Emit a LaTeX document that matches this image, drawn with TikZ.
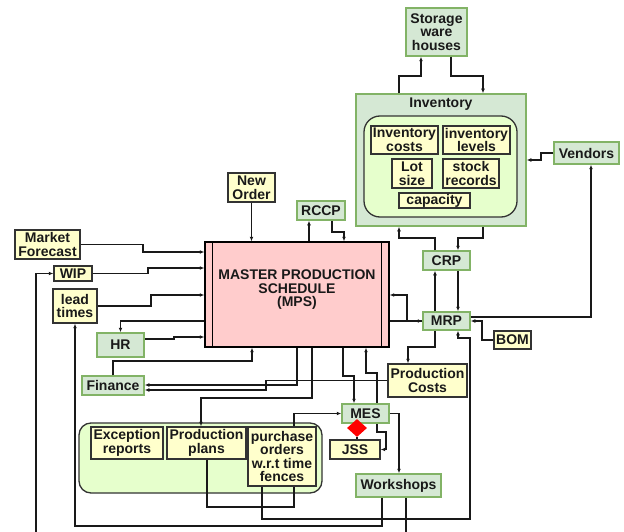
\documentclass[tikz,border=0pt]{standalone}
\usepackage{fontspec}
\setmainfont{Liberation Sans}
\usetikzlibrary{arrows.meta,shapes.geometric}
\definecolor{gfill}{HTML}{D5E8D4}
\definecolor{gline}{HTML}{82B366}
\definecolor{yfill}{HTML}{FFFFCC}
\definecolor{lgfill}{HTML}{E6FFCC}
\definecolor{pfill}{HTML}{FFCCCC}
\begin{document}
\begin{tikzpicture}[x=1pt, y=-1pt]
\tikzset{every node/.style={font=\fontsize{14}{13.6}\selectfont\bfseries, align=center, inner sep=0pt, text=black!90}}
\tikzset{gbox/.style={draw=gline, fill=gfill, line width=1.5pt}}
\tikzset{ybox/.style={draw=black!80, fill=yfill, line width=1.3pt}}
\tikzset{wire/.style={draw=black!90, line width=1.1pt}}
\tikzset{arr/.style={wire, -{Latex[length=4.5pt,width=3.8pt]}}}
\tikzset{dim/.style 2 args={minimum width=#1pt, minimum height=#2pt}}
\path[fill=white] (0,0) rectangle (624,532);
\useasboundingbox (0,0) rectangle (624,532);
% inventory block
\node[gbox, dim={61}{48}] (store) at (436.5,32) {Storage\\ware\\houses};
\node[gbox, dim={170}{132}, label={[anchor=north, yshift=-4pt]north:Inventory}] (inv) at (441,160) {};
\node[draw=black!80, fill=lgfill, line width=1.3pt, rounded corners=16pt, dim={153}{101}] (invin) at (440.5,166.5) {};
\node[ybox, dim={67}{28}] (invcost) at (404.5,140) {Inventory\\costs};
\node[ybox, dim={67}{28}] (invlev) at (476.5,140) {inventory\\levels};
\node[ybox, dim={40}{29}] (lot) at (412,173.5) {Lot\\size};
\node[ybox, dim={56}{29}] (stock) at (471,173.5) {stock\\records};
\node[ybox, dim={71}{15}] (capa) at (434.5,200.5) {capacity};
\node[gbox, dim={65}{22}] (vend) at (586.5,153) {Vendors};
% planning
\node[gbox, dim={48}{19}] (rccp) at (321,210.5) {RCCP};
\node[ybox, dim={47}{29}] (neworder) at (251.5,187.5) {New\\Order};
\node[draw=black, fill=pfill, line width=1.3pt, dim={184}{105}, text depth=12pt] (mps) at (297,294.5) {MASTER PRODUCTION\\SCHEDULE\\(MPS)};
\draw[line width=1.1pt] ([xshift=8pt]mps.north west) -- ([xshift=8pt]mps.south west);
\draw[line width=1.1pt] ([xshift=-8pt]mps.north east) -- ([xshift=-8pt]mps.south east);
\node[ybox, dim={65}{29}] (mf) at (47.5,244.5) {Market\\Forecast};
\node[ybox, dim={38}{15}] (wip) at (73,273.5) {WIP};
\node[ybox, dim={44}{34}] (lead) at (75,306) {lead\\times};
\node[gbox, dim={47}{24}] (hr) at (120.5,345) {HR};
\node[gbox, dim={62}{19}] (fin) at (113,385.5) {Finance};
\node[gbox, dim={47}{19}] (crp) at (446.5,260.5) {CRP};
\node[gbox, dim={47}{18}] (mrp) at (446.5,321) {MRP};
\node[ybox, dim={37}{18}] (bom) at (512.5,340) {BOM};
\node[ybox, dim={79}{33}] (pcost) at (427.5,380.5) {Production\\Costs};
% reports
\node[draw=black!80, fill=lgfill, line width=1.3pt, rounded corners=12pt, dim={243}{70}] (grp) at (200.5,458) {};
\node[ybox, dim={72}{32}] (exc) at (127,443) {Exception\\reports};
\node[ybox, dim={79}{32}] (pplan) at (206.5,443) {Production\\plans};
\node[ybox, dim={68}{59}] (purch) at (282,456.5) {purchase\\orders\\w.r.t time\\fences};
\node[ybox, dim={50}{19}] (jss) at (355,449.5) {JSS};
\node[gbox, dim={85}{23}] (work) at (398.5,485.5) {Workshops};
\coordinate (wbot) at (406,532);
\coordinate (wipbot) at (36,532);
\draw[arr, {Latex[length=4.5pt,width=3.8pt]}-{Latex[length=4.5pt,width=3.8pt]}] (jss.east) -| (386,432) -| (377,373) -| (mps.south -| 366,0);
\node[gbox, dim={47}{19}] (mes) at (365.5,413.5) {MES};
\node[diamond, fill=red, dim={20}{18}] (dia) at (357,428) {};
% connectors
\draw[arr] (store.south -| 451,0) |- (483,76) -- (inv.north -| 483,0);
\draw[arr] (inv.north -| 399,0) |- (421,76) -- (store.south -| 421,0);
\draw[arr] (vend.west) -| (541,160) -- (inv.east |- 0,160);
\draw[arr] (crp.north -| 435,0) |- (399,238) -- (inv.south -| 399,0);
\draw[arr] (inv.south -| 483,0) |- (458,238) -- (crp.north -| 458,0);
\draw[arr] (mrp.north -| 435,0) -- (crp.south -| 435,0);
\draw[arr] (crp.south -| 458,0) -- (mrp.north -| 458,0);
\draw[arr] (mrp.east |- 0,317) -| (vend.south -| 591,0);
\draw[arr] (bom.west) -| (482,321) -- (mrp.east |- 0,321);
\draw[arr] (mps.east |- 0,321) -- (mrp.west);
\draw[arr] (mrp.west) -| (407,295) -- (mps.east |- 0,295);
\draw[arr] (mrp.south -| 435,0) |- (408,347) -- (pcost.north -| 408,0);
\draw[arr] (neworder.south) -- (neworder.south |- mps.north);
\draw[arr] (mps.north -| 309,0) -- (rccp.south -| 309,0);
\draw[arr] (rccp.south -| 332,0) -- (332,232) -| (mps.north -| 344,0);
\draw[arr] (mf.east) -| (143,252) -- (mps.west |- 0,252);
\draw[arr] (wip.east) -| (148,268) -- (mps.west |- 0,268);
\draw[arr] (lead.east) -| (151,295) -- (mps.west |- 0,295);
\draw[arr] (mps.west |- 0,321) -| (hr.north);
\draw[arr] (hr.east |- 0,339) -| (174,337) -- (mps.west |- 0,337);
\draw[arr] (fin.north) -- (fin.north |- 0,361) -| (mps.south -| 252,0);
\draw[arr] (mps.south -| 297,0) |- (fin.east |- 0,385);
\draw[arr] (pcost.west) -| (266,390) -- (fin.east |- 0,390);
\draw[arr] (mps.south -| 312,0) |- (201,398) -- (pplan.north -| 201,0);
\draw[arr] (mps.south -| 343,0) |- (354,376) -- (mes.north -| 354,0);
\draw[arr] (purch.north -| 294,0) |- (mes.west);
\draw[arr] (mes.east) -| (work.north -| 399,0);
\draw[wire] (dia.south) -- (jss.north -| dia.south);
\draw[wire] (pplan.south -| 207,0) |- (294,507) -- (purch.south -| 294,0);
\draw[arr] (purch.south -| 262,0) |- (470,519) |- (458,338) -- (mrp.south -| 458,0);
\draw[arr] (work.south -| 382,0) |- (75,526) -- (lead.south -| 75,0);
\draw[wire] (work.south -| 406,0) -- (wbot);
\draw[arr] (wipbot) |- (wip.west);
\end{tikzpicture}
\end{document}
